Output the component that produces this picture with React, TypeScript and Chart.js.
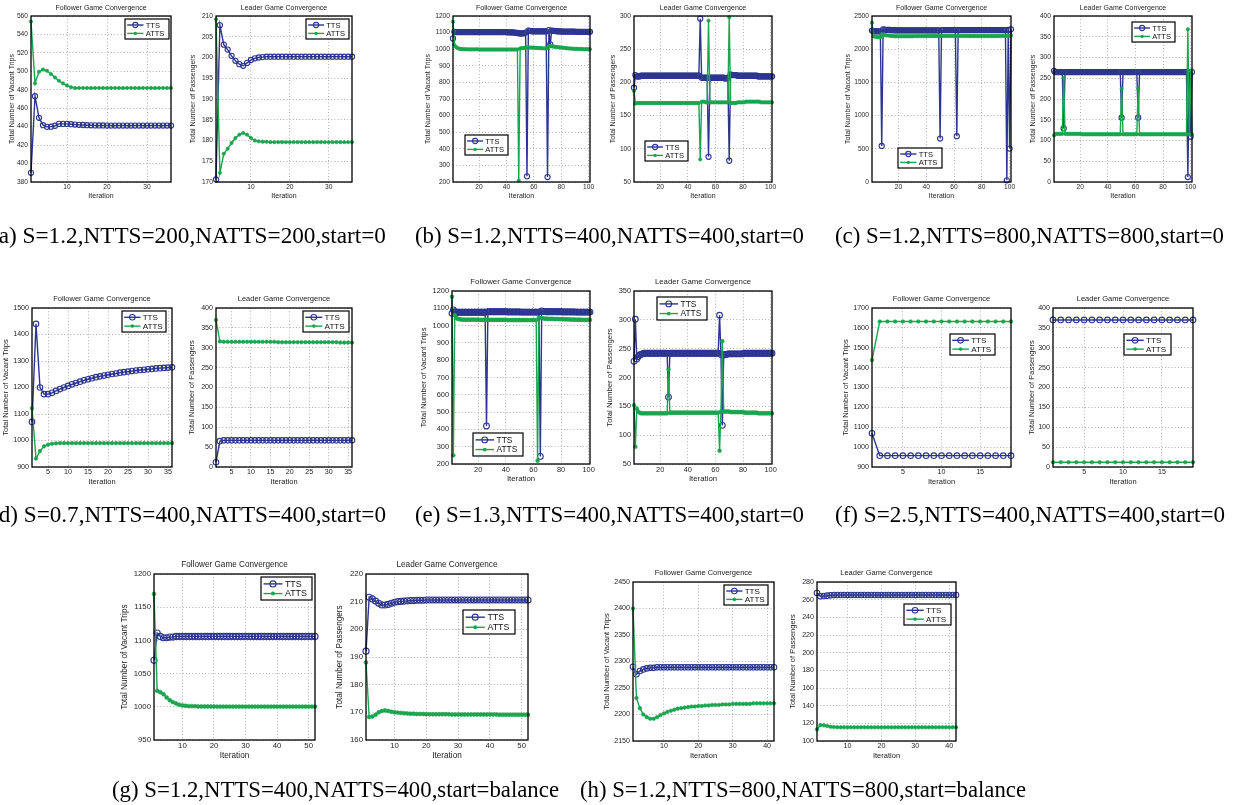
import React, { useEffect, useRef } from "react";
import { Chart, registerables } from "chart.js";

Chart.register(...registerables);

// ---------------- text ----------------
const TITLE_FOLLOWER = "Follower Game Convergence";
const TITLE_LEADER = "Leader Game Convergence";
const YLABEL_FOLLOWER = "Total Number of Vacant Trips";
const YLABEL_LEADER = "Total Number of Passengers";
const XLABEL = "Iteration";
const SERIES = ["TTS", "ATTS"];

const captions = [
  "(a) S=1.2,NTTS=200,NATTS=200,start=0",
  "(b) S=1.2,NTTS=400,NATTS=400,start=0",
  "(c) S=1.2,NTTS=800,NATTS=800,start=0",
  "(d) S=0.7,NTTS=400,NATTS=400,start=0",
  "(e) S=1.3,NTTS=400,NATTS=400,start=0",
  "(f) S=2.5,NTTS=400,NATTS=400,start=0",
  "(g) S=1.2,NTTS=400,NATTS=400,start=balance",
  "(h) S=1.2,NTTS=800,NATTS=800,start=balance",
];

// ---------------- (a) ----------------
const aFollowerTTS = [
  390, 473, 449.6, 441.6, 439.8, 440, 441, 443, 443, 443,
  442.7, 442.3, 442, 441.8, 441.6, 441.5, 441.4, 441.3, 441.3, 441.2,
  441.2, 441.2, 441.2, 441.2, 441.2, 441.2, 441.2, 441.2, 441.2, 441.2,
  441.2, 441.2, 441.2, 441.2, 441.2, 441.2,
];
const aFollowerATTS = [
  554, 487, 499.5, 502, 500.6, 497, 493.3, 489.7, 487, 484.6,
  482.8, 482, 482, 482, 482, 482, 482, 482, 482, 482,
  482, 482, 482, 482, 482, 482, 482, 482, 482, 482,
  482, 482, 482, 482, 482, 482,
];
const aLeaderTTS = [
  170.6, 207.8, 203.1, 201.9, 200.4, 199.2, 198.4, 198, 198.7, 199.4,
  199.8, 200, 200.1, 200.2, 200.2, 200.2, 200.2, 200.2, 200.2, 200.2,
  200.2, 200.2, 200.2, 200.2, 200.2, 200.2, 200.2, 200.2, 200.2, 200.2,
  200.2, 200.2, 200.2, 200.2, 200.2, 200.2,
];
const aLeaderATTS = [
  209.2, 172.2, 176.8, 178, 179.4, 180.6, 181.4, 181.8, 181.4, 180.6,
  180, 179.8, 179.7, 179.7, 179.6, 179.6, 179.6, 179.6, 179.6, 179.6,
  179.6, 179.6, 179.6, 179.6, 179.6, 179.6, 179.6, 179.6, 179.6, 179.6,
  179.6, 179.6, 179.6, 179.6, 179.6, 179.6,
];

// ---------------- (b) ----------------
const bFollowerTTS = [
  1065, 1105, 1103, 1103, 1103, 1103, 1103, 1103, 1103, 1103,
  1103, 1103, 1103, 1103, 1103, 1103, 1103, 1103, 1103, 1103,
  1103, 1103, 1103, 1103, 1103, 1103, 1103, 1103, 1103, 1103,
  1103, 1103, 1103, 1103, 1103, 1103, 1103, 1103, 1103, 1103,
  1102, 1102, 1102, 1101, 1101, 1100, 1099, 1098, 1096, 1095,
  1095, 1095, 1097, 1100, 234, 1112, 1110, 1109, 1108, 1108,
  1108, 1108, 1108, 1108, 1108, 1108, 1108, 1108, 1108, 230,
  1115, 1029, 1112, 1110, 1110, 1109, 1108, 1108, 1107, 1107,
  1106, 1106, 1106, 1106, 1106, 1106, 1106, 1106, 1106, 1106,
  1105, 1105, 1105, 1105, 1105, 1105, 1105, 1105, 1105, 1105,
  1105,
];
const bFollowerATTS = [
  1166, 1025, 1015, 1008, 1004, 1002, 1001, 1000, 1000, 1000,
  999, 999, 999, 999, 999, 999, 999, 999, 999, 999,
  998, 998, 998, 998, 998, 998, 998, 998, 998, 998,
  998, 998, 998, 998, 998, 998, 998, 998, 998, 998,
  998, 998, 998, 998, 998, 998, 998, 998, 210, 1005,
  1006, 1007, 1008, 1010, 1010, 1010, 1010, 1010, 1009, 1009,
  1008, 1008, 1007, 1007, 1006, 1006, 1005, 1005, 1005, 1006,
  1018, 1020, 1018, 1016, 1015, 1014, 1013, 1012, 1011, 1010,
  1009, 1008, 1007, 1006, 1005, 1004, 1004, 1003, 1003, 1002,
  1002, 1002, 1001, 1001, 1001, 1000, 1000, 1000, 1000, 1000,
  1000,
];
const bLeaderTTS = [
  192, 211, 209, 209, 209, 210, 210, 210, 210, 210,
  210, 210, 210, 210, 210, 210, 210, 210, 210, 210,
  210, 210, 210, 210, 210, 210, 210, 210, 210, 210,
  210, 210, 210, 210, 210, 210, 210, 210, 210, 210,
  210, 210, 210, 210, 210, 210, 210, 210, 296, 207,
  207, 207, 207, 207, 88, 207, 207, 207, 207, 207,
  207, 207, 207, 207, 207, 207, 206, 206, 207, 82,
  212, 211, 211, 211, 211, 210, 210, 210, 210, 210,
  210, 210, 210, 210, 210, 210, 210, 210, 210, 210,
  209, 209, 209, 209, 209, 209, 209, 209, 209, 209,
  209,
];
const bLeaderATTS = [
  187, 168, 169, 169, 169, 169, 169, 169, 169, 169,
  169, 169, 169, 169, 169, 169, 169, 169, 169, 169,
  169, 169, 169, 169, 169, 169, 169, 169, 169, 169,
  169, 169, 169, 169, 169, 169, 169, 169, 169, 169,
  169, 169, 169, 169, 169, 169, 169, 169, 84, 171,
  171, 171, 170, 170, 293, 170, 170, 170, 170, 170,
  170, 170, 170, 170, 170, 170, 170, 170, 170, 298,
  169, 169, 169, 169, 169, 170, 170, 170, 170, 170,
  170, 171, 171, 171, 171, 171, 171, 171, 171, 171,
  171, 171, 170, 170, 170, 170, 170, 170, 170, 170,
  170,
];

// ---------------- (c) ----------------
const cFollowerTTS = [
  2280, 2270, 2270, 2270, 2270, 2270, 2270, 543, 2300, 2295,
  2292, 2290, 2290, 2289, 2288, 2287, 2286, 2285, 2285, 2285,
  2285, 2285, 2285, 2285, 2285, 2285, 2285, 2285, 2285, 2285,
  2285, 2285, 2285, 2285, 2285, 2285, 2285, 2285, 2285, 2285,
  2285, 2285, 2285, 2285, 2285, 2285, 2285, 2285, 2285, 654,
  2288, 2288, 2288, 2288, 2288, 2288, 2288, 2288, 2288, 2288,
  2288, 690, 2288, 2288, 2288, 2288, 2288, 2288, 2288, 2288,
  2288, 2288, 2288, 2288, 2288, 2288, 2288, 2288, 2288, 2288,
  2288, 2288, 2288, 2288, 2288, 2288, 2288, 2288, 2288, 2288,
  2288, 2288, 2288, 2288, 2288, 2288, 2288, 25, 2290, 503,
  2300,
];
const cFollowerATTS = [
  2400, 2195, 2190, 2185, 2182, 2180, 2180, 2225, 2220, 2215,
  2210, 2208, 2205, 2203, 2200, 2198, 2196, 2195, 2195, 2195,
  2195, 2195, 2195, 2195, 2195, 2195, 2195, 2195, 2195, 2195,
  2197, 2197, 2197, 2197, 2197, 2197, 2197, 2197, 2197, 2197,
  2198, 2198, 2198, 2198, 2198, 2198, 2198, 2198, 2198, 2198,
  2200, 2200, 2200, 2200, 2200, 2200, 2200, 2200, 2200, 2200,
  2200, 2200, 2200, 2200, 2200, 2200, 2200, 2200, 2200, 2200,
  2198, 2198, 2198, 2198, 2198, 2198, 2198, 2198, 2198, 2198,
  2198, 2198, 2198, 2198, 2198, 2198, 2198, 2198, 2198, 2198,
  2199, 2199, 2200, 2200, 2201, 2201, 2202, 2202, 2203, 2203,
  2204,
];
const cLeaderTTS = [
  268, 265, 265, 265, 265, 265, 265, 129, 265, 265,
  265, 265, 265, 265, 265, 265, 265, 265, 265, 265,
  265, 265, 265, 265, 265, 265, 265, 265, 265, 265,
  265, 265, 265, 265, 265, 265, 265, 265, 265, 265,
  265, 265, 265, 265, 265, 265, 265, 265, 265, 155,
  265, 265, 265, 265, 265, 265, 265, 265, 265, 265,
  265, 155, 265, 265, 265, 265, 265, 265, 265, 265,
  265, 265, 265, 265, 265, 265, 265, 265, 265, 265,
  265, 265, 265, 265, 265, 265, 265, 265, 265, 265,
  265, 265, 265, 265, 265, 265, 265, 12, 265, 109,
  265,
];
const cLeaderATTS = [
  112, 116, 116, 116, 116, 116, 116, 251, 116, 116,
  116, 116, 116, 116, 116, 116, 116, 116, 116, 116,
  115, 115, 115, 115, 115, 115, 115, 115, 115, 115,
  115, 115, 115, 115, 115, 115, 115, 115, 115, 115,
  115, 115, 115, 115, 115, 115, 115, 115, 115, 225,
  115, 115, 115, 115, 115, 115, 115, 115, 115, 115,
  115, 225, 115, 115, 115, 115, 115, 115, 115, 115,
  115, 115, 115, 115, 115, 115, 115, 115, 115, 115,
  115, 115, 115, 115, 115, 115, 115, 115, 115, 115,
  115, 115, 115, 115, 115, 115, 115, 368, 115, 268,
  115,
];

// ---------------- (d) ----------------
const dFollowerTTS = [
  1070, 1440, 1200, 1175, 1175, 1180, 1187, 1194, 1200, 1206,
  1212, 1217, 1222, 1227, 1231, 1235, 1239, 1242, 1245, 1248,
  1251, 1253, 1256, 1258, 1260, 1262, 1264, 1266, 1267, 1269,
  1270, 1272, 1273, 1274, 1275, 1276,
];
const dFollowerATTS = [
  1122, 932, 960, 978, 984, 988, 989, 990, 990, 990,
  990, 990, 990, 990, 990, 990, 990, 990, 990, 990,
  990, 990, 990, 990, 990, 990, 990, 990, 990, 990,
  990, 990, 990, 990, 990, 990,
];
const dLeaderTTS = [
  12, 65, 67, 67, 67, 67, 67, 67, 67, 67,
  67, 67, 67, 67, 67, 67, 67, 67, 67, 67,
  67, 67, 67, 67, 67, 67, 67, 67, 67, 67,
  67, 67, 67, 67, 67, 67,
];
const dLeaderATTS = [
  370, 316, 315, 315, 315, 315, 315, 315, 315, 315,
  315, 315, 315, 315, 315, 315, 314, 314, 314, 314,
  314, 314, 314, 314, 314, 314, 314, 314, 314, 314,
  314, 314, 313, 313, 313, 313,
];

// ---------------- (e) ----------------
const eFollowerTTS = [
  1071, 1091, 1080, 1077, 1077, 1077, 1077, 1077, 1077, 1077,
  1077, 1077, 1077, 1077, 1077, 1077, 1077, 1077, 1077, 1077,
  1077, 1077, 1077, 1077, 1077, 420, 1080, 1080, 1080, 1080,
  1080, 1080, 1080, 1080, 1080, 1080, 1080, 1080, 1080, 1080,
  1079, 1079, 1079, 1079, 1079, 1079, 1079, 1079, 1079, 1079,
  1078, 1078, 1078, 1078, 1078, 1078, 1078, 1078, 1078, 1078,
  1078, 1078, 1078, 1078, 244, 1085, 1082, 1081, 1080, 1080,
  1080, 1080, 1080, 1080, 1080, 1080, 1080, 1080, 1080, 1080,
  1079, 1079, 1079, 1079, 1079, 1079, 1079, 1079, 1079, 1079,
  1078, 1078, 1078, 1078, 1078, 1078, 1078, 1078, 1078, 1078,
  1078,
];
const eFollowerATTS = [
  1167, 250, 1060, 1045, 1040, 1037, 1036, 1035, 1034, 1034,
  1034, 1034, 1034, 1034, 1034, 1034, 1034, 1034, 1034, 1034,
  1033, 1033, 1033, 1033, 1033, 1033, 1033, 1033, 1033, 1033,
  1033, 1033, 1033, 1033, 1033, 1033, 1033, 1033, 1033, 1033,
  1032, 1032, 1032, 1032, 1032, 1032, 1032, 1032, 1032, 1032,
  1032, 1032, 1032, 1032, 1032, 1032, 1032, 1032, 1032, 1032,
  1032, 1032, 219, 1045, 1044, 1043, 1042, 1041, 1040, 1040,
  1039, 1039, 1039, 1039, 1038, 1038, 1038, 1038, 1037, 1037,
  1037, 1037, 1036, 1036, 1036, 1036, 1035, 1035, 1035, 1035,
  1034, 1034, 1034, 1034, 1033, 1033, 1033, 1033, 1033, 1033,
  1033,
];
const eLeaderTTS = [
  228, 301, 232, 236, 239, 240, 241, 242, 242, 242,
  242, 242, 242, 242, 242, 242, 242, 242, 242, 242,
  242, 242, 242, 242, 242, 166, 242, 242, 242, 242,
  242, 242, 242, 242, 242, 242, 242, 242, 242, 242,
  242, 242, 242, 242, 242, 242, 242, 242, 242, 242,
  242, 242, 242, 242, 242, 242, 242, 242, 242, 242,
  242, 242, 308, 240, 117, 239, 240, 240, 241, 241,
  241, 241, 241, 241, 241, 241, 241, 241, 241, 241,
  242, 242, 242, 242, 242, 242, 242, 242, 242, 242,
  242, 242, 242, 242, 242, 242, 242, 242, 242, 242,
  242,
];
const eLeaderATTS = [
  152, 80, 146, 141, 139, 138, 138, 138, 138, 138,
  138, 138, 138, 138, 138, 138, 138, 138, 138, 138,
  138, 138, 138, 138, 138, 214, 139, 139, 139, 139,
  139, 139, 139, 139, 139, 139, 139, 139, 139, 139,
  139, 139, 139, 139, 139, 139, 139, 139, 139, 139,
  139, 139, 139, 139, 139, 139, 139, 139, 139, 139,
  139, 139, 73, 141, 263, 141, 141, 141, 141, 141,
  140, 140, 140, 140, 140, 140, 140, 140, 140, 140,
  139, 139, 139, 139, 139, 139, 139, 139, 139, 139,
  138, 138, 138, 138, 138, 138, 138, 138, 138, 138,
  138,
];

// ---------------- (f) ----------------
const fFollowerTTS = [1070, 957, 957, 957, 957, 957, 957, 957, 957, 957, 957, 957, 957, 957, 957, 957, 957, 957, 957];
const fFollowerATTS = [1438, 1632, 1632, 1632, 1632, 1632, 1632, 1632, 1632, 1632, 1632, 1632, 1632, 1632, 1632, 1632, 1632, 1632, 1632];
const fLeaderTTS = [370, 370, 370, 370, 370, 370, 370, 370, 370, 370, 370, 370, 370, 370, 370, 370, 370, 370, 370];
const fLeaderATTS = [12, 12, 12, 12, 12, 12, 12, 12, 12, 12, 12, 12, 12, 12, 12, 12, 12, 12, 12];

// ---------------- (g) ----------------
const gFollowerTTS = [
  1070, 1111, 1106, 1104, 1104, 1105, 1105, 1106, 1106, 1106,
  1106, 1106, 1106, 1106, 1106, 1106, 1106, 1106, 1106, 1106,
  1106, 1106, 1106, 1106, 1106, 1106, 1106, 1106, 1106, 1106,
  1106, 1106, 1106, 1106, 1106, 1106, 1106, 1106, 1106, 1106,
  1106, 1106, 1106, 1106, 1106, 1106, 1106, 1106, 1106, 1106,
  1106, 1106,
];
const gFollowerATTS = [
  1170, 1024, 1022, 1019, 1014, 1010, 1007, 1005, 1003, 1002,
  1001.5, 1001, 1001, 1001, 1000.5, 1000.5, 1000.5, 1000.5, 1000.5, 1000.5,
  1000.3, 1000.3, 1000.3, 1000.3, 1000.3, 1000.3, 1000.3, 1000.3, 1000.3, 1000.3,
  1000.3, 1000.3, 1000.3, 1000.3, 1000.3, 1000.3, 1000.3, 1000.3, 1000.3, 1000.3,
  1000.3, 1000.3, 1000.3, 1000.3, 1000.3, 1000.3, 1000.3, 1000.3, 1000.3, 1000.3,
  1000.3, 1000.3,
];
const gLeaderTTS = [
  192.1, 211.6, 211, 210.2, 209.4, 208.8, 208.8, 209, 209.4, 209.8,
  210, 210.1, 210.2, 210.3, 210.4, 210.4, 210.5, 210.5, 210.5, 210.6,
  210.6, 210.6, 210.6, 210.6, 210.6, 210.6, 210.6, 210.6, 210.6, 210.6,
  210.6, 210.6, 210.6, 210.6, 210.6, 210.6, 210.6, 210.6, 210.6, 210.6,
  210.6, 210.6, 210.6, 210.6, 210.6, 210.6, 210.6, 210.6, 210.6, 210.6,
  210.6, 210.6,
];
const gLeaderATTS = [
  188, 168.3, 168.5, 169.1, 170, 170.5, 170.7, 170.5, 170.2, 170,
  169.9, 169.8, 169.7, 169.6, 169.5, 169.5, 169.4, 169.4, 169.4, 169.3,
  169.3, 169.3, 169.3, 169.3, 169.3, 169.3, 169.3, 169.2, 169.2, 169.2,
  169.2, 169.2, 169.2, 169.2, 169.2, 169.2, 169.2, 169.2, 169.2, 169.2,
  169.2, 169.2, 169.1, 169.1, 169.1, 169.1, 169.1, 169.1, 169.1, 169.1,
  169.1, 169.1,
];

// ---------------- (h) ----------------
const hFollowerTTS = [
  2290, 2276, 2282, 2285, 2287, 2288, 2288, 2289, 2289, 2289,
  2289, 2289, 2289, 2289, 2289, 2289, 2289, 2289, 2289, 2289,
  2289, 2289, 2289, 2289, 2289, 2289, 2289, 2289, 2289, 2289,
  2289, 2289, 2289, 2289, 2289, 2289, 2289, 2289, 2289, 2289,
  2289, 2289,
];
const hFollowerATTS = [
  2400, 2231, 2212, 2200, 2195, 2192, 2192, 2195, 2199, 2202,
  2205, 2207, 2209, 2211, 2212, 2213, 2214, 2215, 2215, 2216,
  2216, 2217, 2217, 2218, 2218, 2218, 2219, 2219, 2219, 2220,
  2220, 2220, 2220, 2220, 2220, 2221, 2221, 2221, 2221, 2221,
  2221, 2221,
];
const hLeaderTTS = [
  267.5, 263.8, 264.2, 264.5, 264.9, 265.2, 265.3, 265.3, 265.3, 265.3,
  265.3, 265.3, 265.3, 265.3, 265.3, 265.3, 265.3, 265.3, 265.3, 265.3,
  265.3, 265.3, 265.3, 265.3, 265.3, 265.3, 265.3, 265.3, 265.3, 265.3,
  265.3, 265.3, 265.3, 265.3, 265.3, 265.3, 265.3, 265.3, 265.3, 265.3,
  265.3, 265.3,
];
const hLeaderATTS = [
  113.2, 118, 117.7, 117, 116.2, 115.8, 115.6, 115.5, 115.5, 115.5,
  115.5, 115.5, 115.5, 115.5, 115.5, 115.5, 115.5, 115.5, 115.5, 115.5,
  115.5, 115.5, 115.5, 115.5, 115.5, 115.5, 115.5, 115.5, 115.5, 115.5,
  115.5, 115.5, 115.5, 115.5, 115.5, 115.5, 115.5, 115.5, 115.5, 115.5,
  115.5, 115.5,
];

// ---------------- tick values ----------------
const xTicks10 = [10, 20, 30];
const xTicks20 = [20, 40, 60, 80, 100];
const xTicks5 = [5, 10, 15, 20, 25, 30, 35];
const xTicks5f = [5, 10, 15];
const xTicksG = [10, 20, 30, 40, 50];
const xTicksH = [10, 20, 30, 40];

const yTicksAF = [380, 400, 420, 440, 460, 480, 500, 520, 540, 560];
const yTicksAL = [170, 175, 180, 185, 190, 195, 200, 205, 210];
const yTicksBF = [200, 300, 400, 500, 600, 700, 800, 900, 1000, 1100, 1200];
const yTicksBL = [50, 100, 150, 200, 250, 300];
const yTicksCF = [0, 500, 1000, 1500, 2000, 2500];
const yTicks0to400 = [0, 50, 100, 150, 200, 250, 300, 350, 400];
const yTicksDF = [900, 1000, 1100, 1200, 1300, 1400, 1500];
const yTicksEL = [50, 100, 150, 200, 250, 300, 350];
const yTicksFF = [900, 1000, 1100, 1200, 1300, 1400, 1500, 1600, 1700];
const yTicksGF = [950, 1000, 1050, 1100, 1150, 1200];
const yTicksGL = [160, 170, 180, 190, 200, 210, 220];
const yTicksHF = [2150, 2200, 2250, 2300, 2350, 2400, 2450];
const yTicksHL = [100, 120, 140, 160, 180, 200, 220, 240, 260, 280];

// ---------------- styling / layout ----------------
const BLUE = "#2c3590";
const GREEN = "#19a64e";
const FAMILY = '"Liberation Sans", Arial, Helvetica, sans-serif';
const PAD_L = 2;
const PAD_R = 8;
const PAD_T = 2;
const PAD_B = 2;

type Spec = {
  leader: boolean;
  tts: number[];
  atts: number[];
  xMax: number;
  xTicks: number[];
  yTicks: number[];
  rect: number[]; // l, t, r, b (page px)
  d: number; // y-title offset from plot left
  font: number;
  legend: number[]; // x, y, w, h (page px)
};

const specs: Spec[] = [
  { leader: false, tts: aFollowerTTS, atts: aFollowerATTS, xMax: 36, xTicks: xTicks10, yTicks: yTicksAF, rect: [31, 16, 171, 182], d: 19, font: 7, legend: [125, 19, 44, 20] },
  { leader: true, tts: aLeaderTTS, atts: aLeaderATTS, xMax: 36, xTicks: xTicks10, yTicks: yTicksAL, rect: [216, 16, 352, 182], d: 23, font: 7, legend: [306, 19, 43, 20] },
  { leader: false, tts: bFollowerTTS, atts: bFollowerATTS, xMax: 101, xTicks: xTicks20, yTicks: yTicksBF, rect: [453, 16, 590, 182], d: 24.5, font: 7, legend: [465, 135, 43, 20] },
  { leader: true, tts: bLeaderTTS, atts: bLeaderATTS, xMax: 101, xTicks: xTicks20, yTicks: yTicksBL, rect: [634, 16, 772, 182], d: 21, font: 7, legend: [645, 141, 43, 20] },
  { leader: false, tts: cFollowerTTS, atts: cFollowerATTS, xMax: 101, xTicks: xTicks20, yTicks: yTicksCF, rect: [872, 16, 1011, 182], d: 24, font: 7, legend: [898, 148, 44, 20] },
  { leader: true, tts: cLeaderTTS, atts: cLeaderATTS, xMax: 101, xTicks: xTicks20, yTicks: yTicks0to400, rect: [1054, 16, 1192, 182], d: 21, font: 7, legend: [1132, 22, 43, 20] },
  { leader: false, tts: dFollowerTTS, atts: dFollowerATTS, xMax: 36, xTicks: xTicks5, yTicks: yTicksDF, rect: [32, 308, 172, 467], d: 26, font: 7.5, legend: [122, 311, 44, 21] },
  { leader: true, tts: dLeaderTTS, atts: dLeaderATTS, xMax: 36, xTicks: xTicks5, yTicks: yTicks0to400, rect: [216, 308, 352, 467], d: 23.5, font: 7.5, legend: [303, 311, 46, 21] },
  { leader: false, tts: eFollowerTTS, atts: eFollowerATTS, xMax: 101, xTicks: xTicks20, yTicks: yTicksBF, rect: [452, 291, 590, 464], d: 28, font: 7.8, legend: [473, 433, 50, 23] },
  { leader: true, tts: eLeaderTTS, atts: eLeaderATTS, xMax: 101, xTicks: xTicks20, yTicks: yTicksEL, rect: [634, 291, 772, 464], d: 23.5, font: 7.8, legend: [657, 297, 50, 23] },
  { leader: false, tts: fFollowerTTS, atts: fFollowerATTS, xMax: 19, xTicks: xTicks5f, yTicks: yTicksFF, rect: [872, 308, 1011, 467], d: 25.5, font: 7.5, legend: [950, 334, 45, 21] },
  { leader: true, tts: fLeaderTTS, atts: fLeaderATTS, xMax: 19, xTicks: xTicks5f, yTicks: yTicks0to400, rect: [1053, 308, 1193, 467], d: 21, font: 7.5, legend: [1124, 334, 47, 21] },
  { leader: false, tts: gFollowerTTS, atts: gFollowerATTS, xMax: 52, xTicks: xTicksG, yTicks: yTicksGF, rect: [154, 574, 315, 740], d: 29, font: 8.2, legend: [261, 577, 51, 23] },
  { leader: true, tts: gLeaderTTS, atts: gLeaderATTS, xMax: 52, xTicks: xTicksG, yTicks: yTicksGL, rect: [366, 574, 528, 740], d: 25.5, font: 8.2, legend: [463, 610, 52, 24] },
  { leader: false, tts: hFollowerTTS, atts: hFollowerATTS, xMax: 42, xTicks: xTicksH, yTicks: yTicksHF, rect: [633, 582, 774, 741], d: 25.5, font: 7.5, legend: [724, 585, 44, 20] },
  { leader: true, tts: hLeaderTTS, atts: hLeaderATTS, xMax: 42, xTicks: xTicksH, yTicks: yTicksHL, rect: [817, 582, 956, 741], d: 23.5, font: 7.5, legend: [904, 604, 47, 21] },
];

// caption layout: x, baseline, textLength
const captionLayout = [
  [-9, 243, 395],
  [415, 243, 389],
  [835, 243, 389],
  [-9, 521.5, 395],
  [415, 521.5, 389],
  [835, 521.5, 390],
  [112, 797, 447],
  [580, 797, 446],
];

function geometry(p: Spec) {
  const [l, t, r, b] = p.rect;
  const yW = Math.round(p.d + 4);
  const titleGap = Math.round(p.font * 1.15);
  const titlePadBottom = titleGap - 5;
  const tickPad = Math.max(0, Math.round(p.font * 0.72) - 4);
  const xH = Math.round(p.font * 1.95 + 4);
  const left = l - yW - PAD_L;
  const top = t - PAD_T - 10 - titlePadBottom;
  const width = PAD_L + yW + (r - l) + PAD_R;
  const height = t - top + (b - t) + xH + PAD_B;
  return { yW, titlePadBottom, tickPad, xH, left, top, width, height };
}

function Panel({ p }: { p: Spec }) {
  const ref = useRef<HTMLCanvasElement | null>(null);
  const g = geometry(p);

  useEffect(() => {
    const canvas = ref.current;
    if (!canvas) return;
    const f = p.font;
    const tf = f * 0.95;
    const lf = f * 1.08;
    const ttsRadius = f * 0.37;
    const attsRadius = f * 0.24;

    const overlay = {
      id: "mlOverlay",
      afterDraw(chart: any) {
        const { ctx, chartArea: a } = chart;
        ctx.save();
        ctx.strokeStyle = "#000";
        ctx.lineWidth = 1.3;
        ctx.strokeRect(a.left, a.top, a.right - a.left, a.bottom - a.top);
        const [lx, ly, lw, lh] = p.legend;
        const x = lx - g.left;
        const y = ly - g.top;
        ctx.fillStyle = "#fff";
        ctx.fillRect(x, y, lw, lh);
        ctx.lineWidth = 1.2;
        ctx.strokeStyle = "#000";
        ctx.strokeRect(x, y, lw, lh);
        chart.data.datasets.forEach((ds: any, i: number) => {
          const cy = y + lh * (i === 0 ? 0.3 : 0.72);
          ctx.strokeStyle = ds.borderColor;
          ctx.lineWidth = ds.borderWidth;
          ctx.beginPath();
          ctx.moveTo(x + lw * 0.05, cy);
          ctx.lineTo(x + lw * 0.42, cy);
          ctx.stroke();
          const mx = x + lw * 0.235;
          ctx.beginPath();
          ctx.arc(mx, cy, ds.pointRadius, 0, Math.PI * 2);
          if (i === 0) {
            ctx.lineWidth = ds.pointBorderWidth;
            ctx.strokeStyle = ds.pointBorderColor;
            ctx.stroke();
          } else {
            ctx.fillStyle = ds.pointBackgroundColor;
            ctx.fill();
          }
          ctx.fillStyle = "#111";
          ctx.font = `${lf}px ${FAMILY}`;
          ctx.textBaseline = "middle";
          ctx.textAlign = "left";
          ctx.fillText(ds.label, x + lw * 0.47, cy + 0.5);
        });
        ctx.restore();
      },
    };

    const gridOpts = { color: "#9c9c9c", lineWidth: 0.8, drawTicks: false, borderDash: [1, 2.2] };
    const borderOpts = { display: false, dash: [1, 2.2] };

    const chart = new Chart(canvas, {
      type: "line",
      data: {
        datasets: [
          {
            label: SERIES[0],
            data: p.tts.map((v, i) => ({ x: i + 1, y: v })),
            borderColor: BLUE,
            backgroundColor: "rgba(0,0,0,0)",
            borderWidth: 1.4,
            pointStyle: "circle",
            pointRadius: ttsRadius,
            pointBorderWidth: 1.1,
            pointBackgroundColor: "rgba(0,0,0,0)",
            pointBorderColor: BLUE,
            tension: 0,
            fill: false,
            clip: false,
            order: 2,
          },
          {
            label: SERIES[1],
            data: p.atts.map((v, i) => ({ x: i + 1, y: v })),
            borderColor: GREEN,
            backgroundColor: GREEN,
            borderWidth: 1.4,
            pointStyle: "circle",
            pointRadius: attsRadius,
            pointBorderWidth: 0.6,
            pointBackgroundColor: GREEN,
            pointBorderColor: GREEN,
            tension: 0,
            fill: false,
            clip: false,
            order: 1,
          },
        ],
      },
      options: {
        responsive: false,
        animation: false,
        devicePixelRatio: 1,
        events: [],
        layout: { padding: { left: PAD_L, right: PAD_R, top: PAD_T, bottom: PAD_B } },
        plugins: {
          legend: { display: false },
          tooltip: { enabled: false },
          title: {
            display: true,
            text: p.leader ? TITLE_LEADER : TITLE_FOLLOWER,
            fullSize: false,
            color: "#222",
            font: { family: FAMILY, size: f, weight: "normal", lineHeight: "10px" },
            padding: { top: 0, bottom: g.titlePadBottom },
          },
        },
        scales: {
          x: {
            type: "linear",
            min: 1,
            max: p.xMax,
            afterBuildTicks: (s: any) => {
              s.ticks = p.xTicks.map((v) => ({ value: v }));
            },
            afterFit: (s: any) => {
              s.height = g.xH;
            },
            ticks: {
              autoSkip: false,
              maxRotation: 0,
              padding: g.tickPad,
              color: "#262626",
              font: { family: FAMILY, size: tf, lineHeight: "8px" },
              callback: (v: any) => String(v),
            },
            grid: gridOpts,
            border: borderOpts,
            title: {
              display: true,
              text: XLABEL,
              color: "#222",
              font: { family: FAMILY, size: f, lineHeight: "8px" },
              padding: 0,
            },
          },
          y: {
            type: "linear",
            min: p.yTicks[0],
            max: p.yTicks[p.yTicks.length - 1],
            afterBuildTicks: (s: any) => {
              s.ticks = p.yTicks.map((v) => ({ value: v }));
            },
            afterFit: (s: any) => {
              s.width = g.yW;
            },
            ticks: {
              autoSkip: false,
              padding: 3,
              color: "#262626",
              font: { family: FAMILY, size: tf, lineHeight: "8px" },
              callback: (v: any) => String(v),
            },
            grid: gridOpts,
            border: borderOpts,
            title: {
              display: true,
              text: p.leader ? YLABEL_LEADER : YLABEL_FOLLOWER,
              color: "#222",
              font: { family: FAMILY, size: f, lineHeight: "8px" },
              padding: 0,
            },
          },
        },
      },
      plugins: [overlay],
    } as any);
    return () => chart.destroy();
  }, []);

  return (
    <canvas
      ref={ref}
      width={g.width}
      height={g.height}
      style={{ position: "absolute", left: g.left, top: g.top, width: g.width, height: g.height }}
    />
  );
}

export default function App() {
  return (
    <div
      style={{
        position: "absolute",
        left: 0,
        top: 0,
        width: 1240,
        height: 805,
        overflow: "hidden",
        background: "#fff",
      }}
    >
      {specs.map((p, i) => (
        <Panel key={i} p={p} />
      ))}
      <svg
        width={1240}
        height={805}
        style={{ position: "absolute", left: 0, top: 0, pointerEvents: "none" }}
      >
        {captions.map((c, i) => (
          <text
            key={i}
            x={captionLayout[i][0]}
            y={captionLayout[i][1]}
            textLength={captionLayout[i][2]}
            lengthAdjust="spacingAndGlyphs"
            fontFamily='"Liberation Serif", "DejaVu Serif", serif'
            fontSize={22.5}
            fill="#000"
          >
            {c}
          </text>
        ))}
      </svg>
    </div>
  );
}
